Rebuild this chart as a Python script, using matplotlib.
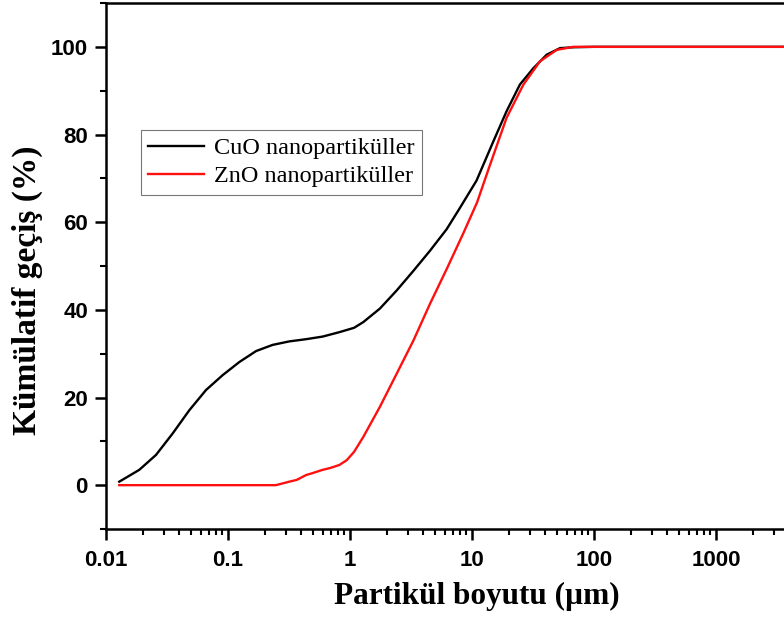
import matplotlib
matplotlib.use("Agg")
import matplotlib.pyplot as plt
from matplotlib.ticker import FixedLocator, LogLocator, NullFormatter, MultipleLocator

cuo_x = [0.01285, 0.01875, 0.0257, 0.0352, 0.0482, 0.066, 0.0904, 0.124, 0.170, 0.232,
         0.318, 0.436, 0.597, 0.817, 1.08, 1.285, 1.76, 2.41, 3.31, 4.53, 6.2, 7.98,
         10.9, 15.0, 19.2, 24.7, 31.8, 40.9, 52.6, 67.6, 100, 1000, 5000]
cuo_y = [0.8, 3.5, 6.9, 11.8, 17.1, 21.7, 25.1, 28.1, 30.6, 32.0,
         32.8, 33.3, 33.9, 34.9, 35.9, 37.2, 40.3, 44.4, 48.9, 53.5, 58.4, 63.3,
         69.5, 78.5, 85.3, 91.4, 95.1, 98.2, 99.7, 99.9, 100, 100, 100]

zno_x = [0.01285, 0.05, 0.1, 0.247, 0.318, 0.366, 0.436, 0.5, 0.597, 0.685, 0.817, 0.94,
         1.08, 1.285, 1.76, 2.41, 3.31, 4.53, 6.2, 8.5, 11.0, 14.1, 19.2, 26.4, 36.1,
         49.4, 67.6, 100, 1000, 5000]
zno_y = [0.0, 0.0, 0.0, 0.0, 0.8, 1.2, 2.3, 2.8, 3.5, 3.9, 4.6, 5.7,
         7.6, 11.0, 17.9, 25.4, 33.0, 41.4, 49.3, 57.5, 64.5, 73.2, 83.8, 91.4, 96.7,
         99.3, 100, 100, 100, 100]

labels = ["CuO nanopartiküller", "ZnO nanopartiküller"]
colors = ["black", "#ff1010"]

fig = plt.figure(figsize=(7.84, 6.18), dpi=100)
ax = fig.add_axes([106/784, 1 - 529/618, 732/784, 526/618])

ax.plot(cuo_x, cuo_y, color=colors[0], lw=1.7, label=labels[0], solid_joinstyle="round")
ax.plot(zno_x, zno_y, color=colors[1], lw=1.7, label=labels[1], solid_joinstyle="round")

ax.set_xscale("log")
ax.set_xlim(0.01, 10000)
ax.set_ylim(-10, 110)

ax.xaxis.set_major_locator(FixedLocator([0.01, 0.1, 1, 10, 100, 1000]))
ax.set_xticklabels(["0.01", "0.1", "1", "10", "100", "1000"])
ax.xaxis.set_minor_locator(LogLocator(base=10, subs=range(2, 10), numticks=20))
ax.xaxis.set_minor_formatter(NullFormatter())
ax.yaxis.set_major_locator(FixedLocator([0, 20, 40, 60, 80, 100]))
ax.yaxis.set_minor_locator(MultipleLocator(10))

for s in ["left", "bottom", "top", "right"]:
    ax.spines[s].set_linewidth(1.8)
ax.tick_params(axis="both", which="major", direction="out", length=8, width=1.8,
               labelsize=16, pad=5)
ax.tick_params(axis="x", which="major", pad=7)
ax.tick_params(axis="both", which="minor", direction="out", length=4.5, width=1.5)
ax.tick_params(top=False, right=False, which="both")
for lab in ax.get_xticklabels() + ax.get_yticklabels():
    lab.set_fontfamily("Liberation Sans")
    lab.set_fontweight("bold")

ax.set_xlabel("Partikül boyutu (µm)", fontfamily="Liberation Serif", fontweight="bold",
              fontsize=22.5)
ax.xaxis.set_label_coords((477 - 106) / 732, (529 - 582) / 526)
ax.set_ylabel("Kümülatif geçiş (%)", fontfamily="Liberation Serif", fontweight="bold",
              fontsize=24)
ax.yaxis.set_label_coords((43 - 106) / 732, (529 - 290) / 526)

leg = ax.legend(loc="upper left", bbox_to_anchor=(141/784, 1 - 130/618),
                bbox_transform=fig.transFigure, frameon=True, fancybox=False,
                prop={"family": "Liberation Serif", "size": 17.5},
                handlelength=2.3, handletextpad=0.4, borderpad=0.3, labelspacing=0.25,
                borderaxespad=0)
leg.get_frame().set_edgecolor("#555555")
leg.get_frame().set_linewidth(0.8)

fig.savefig("out.png", dpi=100)
